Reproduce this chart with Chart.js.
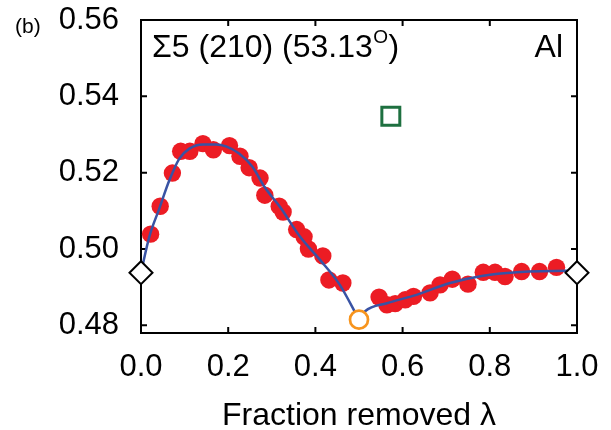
<!DOCTYPE html>
<html>
<head>
<meta charset="utf-8">
<script src="https://cdn.jsdelivr.net/npm/chart.js@4.4.1/dist/chart.umd.min.js"></script>
<style>
html,body{margin:0;padding:0;background:#fff;}
#wrap{width:611px;height:430px;position:relative;}
</style>
</head>
<body>
<div id="wrap"><canvas id="c" width="611" height="430"></canvas></div>
<script>
// ---- data ----
const xTicks = [0.0, 0.2, 0.4, 0.6, 0.8, 1.0];
const yTicks = [0.48, 0.50, 0.52, 0.54, 0.56];

const redX = [0.022,0.044,0.072,0.091,0.112,0.142,0.166,0.203,0.227,0.248,0.273,0.284,0.317,0.326,0.357,0.374,0.384,0.417,0.431,0.463,
              0.546,0.564,0.583,0.606,0.625,0.663,0.686,0.714,0.750,0.785,0.812,0.835,0.873,0.914,0.953];
const redY = [0.5039,0.5112,0.5199,0.5256,0.5256,0.5276,0.5260,0.5271,0.5243,0.5213,0.5186,0.5141,0.5112,0.5097,0.5051,0.5032,0.5000,0.4982,0.4919,0.4911,
              0.4874,0.4854,0.4857,0.4867,0.4876,0.4885,0.4906,0.4921,0.4908,0.4939,0.4939,0.4928,0.4941,0.4941,0.4952];

const fitLeftX = [0.0,0.019,0.042,0.065,0.088,0.111,0.142,0.172,0.195,0.225,0.256,0.283,0.319,0.365,0.411,0.456,0.5];
const fitLeftY = [0.4938,0.5032,0.5106,0.5180,0.5237,0.5263,0.5274,0.5274,0.5269,0.5250,0.5215,0.5163,0.5110,0.5032,0.4971,0.4906,0.4815];
const fitRightX = [0.5,0.514,0.564,0.632,0.709,0.785,0.862,0.976,1.0];
const fitRightY = [0.4815,0.4837,0.4858,0.4880,0.4911,0.4930,0.4939,0.4943,0.4938];

const endX = [0.0, 1.0];
const endY = [0.4938, 0.4938];
const halfX = [0.5];
const halfY = [0.4815];
const sqX = [0.573];
const sqY = [0.5348];

const pts = (xs, ys) => xs.map((x, i) => ({x: x, y: ys[i]}));
const FONT = "'Liberation Sans', Arial, Helvetica, sans-serif";

const framePlugin = {
  id: 'frame',
  beforeDatasetsDraw(chart) {
    const {ctx, chartArea: a, scales} = chart;
    ctx.save();
    ctx.strokeStyle = '#000';
    ctx.lineWidth = 2;
    ctx.strokeRect(a.left, a.top, a.right - a.left, a.bottom - a.top);
    const tl = 6;
    ctx.beginPath();
    xTicks.forEach(v => {
      const px = scales.x.getPixelForValue(v);
      ctx.moveTo(px, a.bottom); ctx.lineTo(px, a.bottom - tl);
      ctx.moveTo(px, a.top); ctx.lineTo(px, a.top + tl);
    });
    yTicks.forEach(v => {
      const py = scales.y.getPixelForValue(v);
      ctx.moveTo(a.left, py); ctx.lineTo(a.left + tl, py);
      ctx.moveTo(a.right, py); ctx.lineTo(a.right - tl, py);
    });
    ctx.stroke();
    ctx.restore();
  },
  afterDraw(chart) {
    const {ctx} = chart;
    ctx.save();
    ctx.fillStyle = '#000';
    ctx.textBaseline = 'alphabetic';
    ctx.textAlign = 'left';
    ctx.font = '21px ' + FONT;
    ctx.fillText('(b)', 15, 33);
    ctx.font = '32px ' + FONT;
    const main = '\u03A35 (210) (53.13';
    let x = 152;
    ctx.fillText(main, x, 57);
    x += ctx.measureText(main).width + 0.5;
    ctx.font = '19px ' + FONT;
    ctx.fillText('O', x, 43);
    x += ctx.measureText('O').width + 0.5;
    ctx.font = '32px ' + FONT;
    ctx.fillText(')', x, 57);
    ctx.font = '32px ' + FONT;
    ctx.textAlign = 'right';
    ctx.fillText('Al', 563, 57);
    ctx.restore();
  }
};

new Chart(document.getElementById('c'), {
  type: 'scatter',
  data: {
    datasets: [
      {
        label: 'data',
        data: pts(redX, redY),
        pointRadius: 8.7,
        pointHoverRadius: 8.7,
        pointBackgroundColor: '#ec1c24',
        pointBorderWidth: 0,
        borderColor: 'rgba(0,0,0,0)',
        order: 3
      },
      {
        label: 'fitL',
        data: pts(fitLeftX, fitLeftY),
        showLine: true,
        borderColor: '#3953a4',
        borderWidth: 2.5,
        pointRadius: 0,
        cubicInterpolationMode: 'monotone',
        order: 2
      },
      {
        label: 'fitR',
        data: pts(fitRightX, fitRightY),
        showLine: true,
        borderColor: '#3953a4',
        borderWidth: 2.5,
        pointRadius: 0,
        cubicInterpolationMode: 'monotone',
        order: 2
      },
      {
        label: 'ends',
        data: pts(endX, endY),
        pointStyle: 'rectRot',
        pointRadius: 11.5,
        pointBorderWidth: 2,
        pointBorderColor: '#000',
        pointBackgroundColor: '#fff',
        clip: false,
        order: 1
      },
      {
        label: 'half',
        data: pts(halfX, halfY),
        pointStyle: 'circle',
        pointRadius: 9,
        pointBorderWidth: 2.7,
        pointBorderColor: '#f7941d',
        pointBackgroundColor: '#fff',
        clip: false,
        order: 1
      },
      {
        label: 'square',
        data: pts(sqX, sqY),
        pointStyle: 'rect',
        pointRadius: 12.7,
        pointBorderWidth: 3,
        pointBorderColor: '#1e7040',
        pointBackgroundColor: '#fff',
        order: 1
      }
    ]
  },
  options: {
    responsive: false,
    animation: false,
    events: [],
    layout: {padding: {left: 0, right: 34, top: 20, bottom: 0}},
    plugins: {legend: {display: false}, tooltip: {enabled: false}},
    scales: {
      x: {
        type: 'linear',
        min: 0, max: 1,
        afterBuildTicks: s => { s.ticks = xTicks.map(v => ({value: v})); },
        afterFit: s => { s.height = 97; s.paddingLeft = 0; s.paddingRight = 0; },
        grid: {display: false, drawTicks: false},
        border: {display: false},
        ticks: {
          padding: 16,
          color: '#000',
          font: {family: FONT, size: 31},
          callback: v => Number(v).toFixed(1)
        },
        title: {
          display: true,
          text: 'Fraction removed \u03BB',
          color: '#000',
          font: {family: FONT, size: 32, lineHeight: 1},
          padding: {top: 0, bottom: -2}
        }
      },
      y: {
        type: 'linear',
        min: 0.478, max: 0.56,
        afterBuildTicks: s => { s.ticks = yTicks.map(v => ({value: v})); },
        afterFit: s => { s.width = 141; s.paddingTop = 0; s.paddingBottom = 0; },
        grid: {display: false, drawTicks: false},
        border: {display: false},
        ticks: {
          padding: 22,
          color: '#000',
          font: {family: FONT, size: 31},
          callback: v => Number(v).toFixed(2)
        }
      }
    }
  },
  plugins: [framePlugin]
});
</script>
</body>
</html>
